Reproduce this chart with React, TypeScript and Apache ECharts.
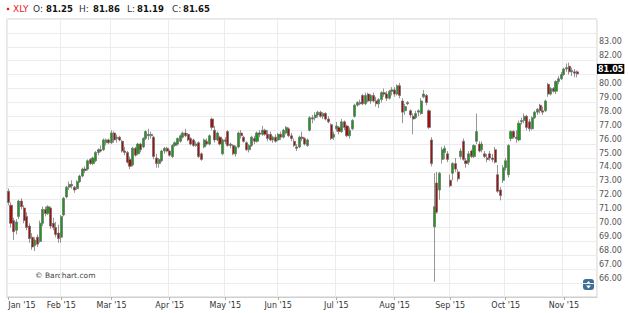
import React, { useEffect, useRef } from 'react';
import * as echarts from 'echarts';

const ticker = 'XLY';
const quoteLabels = ['O:', 'H:', 'L:', 'C:'];
const quoteValues = ['81.25', '81.86', '81.19', '81.65'];
const watermark = '\u00A9 Barchart.com';
const monthNames = ['Jan', 'Feb', 'Mar', 'Apr', 'May', 'Jun', 'Jul', 'Aug', 'Sep', 'Oct', 'Nov', 'Dec'];
const holidays = ['2015-01-19', '2015-02-16', '2015-04-03', '2015-05-25', '2015-07-03', '2015-09-07'];
const firstDay = '2015-01-02';
const emptySlots = 7;

const opens = [
  72.6, 71.6, 70.5, 69.8, 70.8, 71.9, 71.4, 70.8, 70.1, 69.3, 68.7, 69.3, 69.0, 70.3, 71.3, 71.0, 71.4, 70.3, 70.0, 69.6,
  69.3, 70.9, 72.2, 72.9, 73.1, 72.9, 72.8, 73.3, 73.7, 74.2, 74.2, 74.9, 74.6, 74.8, 75.4, 75.6, 75.6, 76.1, 76.3,
  76.1, 76.8, 76.4, 76.5, 76.2, 75.5, 75.4, 74.9, 74.5, 75.7, 75.3, 76.0, 75.8, 76.4, 76.7, 76.6, 76.5, 75.0, 74.6, 74.8, 75.5, 75.7, 75.5,
  75.1, 75.9, 76.0, 76.2, 76.5, 76.8, 76.7, 76.4, 76.3, 75.9, 76.1, 75.3, 75.8, 76.2, 76.0, 77.8, 77.0, 76.3, 76.5, 75.3,
  76.3, 76.9, 75.9, 75.9, 75.3, 75.8, 76.8, 76.5, 76.1, 75.6, 75.9, 76.4, 76.2, 76.8, 76.7, 77.0, 76.7, 76.7, 76.3, 76.5,
  76.3, 76.7, 76.5, 76.8, 77.1, 76.6, 76.2, 75.8, 75.8, 76.5, 76.4, 75.9, 77.0, 77.8, 77.9, 78.1, 78.3, 78.0, 78.2, 77.8, 77.4, 76.5,
  77.1, 77.2, 76.9, 77.6, 77.3, 76.6, 77.1, 78.0, 78.8, 79.0, 79.5, 78.9, 79.6, 79.1, 79.5, 79.1, 78.9, 79.2, 79.7, 79.6, 79.3, 79.8,
  79.9, 79.6, 80.2, 79.1, 78.4, 78.9, 78.4, 78.0, 77.9, 78.3, 78.2, 79.4, 79.5, 78.4, 76.3, 70.05, 73.2, 72.7, 74.9, 75.4, 75.3,
  73.4, 73.9, 74.6, 74.0, 75.1, 76.2, 74.8, 74.7, 75.5, 75.1, 76.2, 76.0, 75.6, 75.3, 75.0, 75.3, 75.0, 75.6, 73.8, 72.7, 73.4,
  74.3, 73.8, 76.4, 76.9, 76.5, 76.3, 77.6, 77.7, 78.0, 77.6, 77.1, 77.9, 78.3, 78.8, 78.4, 78.4, 80.3, 79.6, 80.0, 79.8, 80.5, 80.7,
  81.0, 81.4, 81.6, 81.2, 81.2, 81.2,
];
const highs = [
  72.8, 71.8, 70.7, 70.6, 72.0, 72.1, 71.6, 71.1, 70.3, 69.6, 69.3, 69.5, 70.5, 71.5, 71.5, 71.6, 71.5, 70.7, 70.4, 70.2,
  70.9, 72.2, 73.0, 73.3, 73.4, 73.0, 73.4, 73.8, 74.3, 74.4, 74.9, 75.0, 75.1, 75.5, 75.7, 75.9, 76.4, 76.4, 76.4,
  77.0, 76.9, 76.7, 76.6, 76.3, 75.8, 75.5, 75.1, 75.8, 75.8, 76.1, 76.1, 76.5, 77.0, 77.1, 76.9, 76.6, 75.3, 75.0, 75.6, 75.8, 75.8, 75.6,
  76.0, 76.2, 76.5, 76.7, 76.9, 77.1, 76.8, 76.5, 76.4, 76.2, 76.2, 75.4, 76.4, 76.4, 76.7, 77.9, 77.3, 76.9, 76.6, 76.4,
  76.5, 77.0, 76.1, 76.0, 75.9, 76.9, 77.0, 76.6, 76.2, 76.0, 76.6, 76.6, 76.9, 77.0, 77.3, 77.1, 77.0, 76.9, 76.6, 76.7,
  76.8, 76.9, 77.1, 77.3, 77.2, 76.8, 76.4, 76.0, 76.6, 76.9, 76.5, 76.4, 78.0, 78.1, 78.3, 78.4, 78.4, 78.3, 78.3, 78.0, 77.5, 76.9,
  77.6, 77.3, 77.8, 77.7, 77.4, 77.2, 77.8, 78.9, 79.1, 79.2, 79.6, 79.7, 79.7, 79.6, 79.7, 79.4, 79.3, 79.8, 80.0, 79.8, 79.9, 80.1,
  80.1, 80.3, 80.4, 79.3, 78.9, 79.1, 78.5, 78.2, 78.4, 78.5, 79.3, 79.9, 79.6, 78.5, 76.5, 73.9, 74.0, 74.0, 75.8, 75.9, 75.5,
  73.8, 74.7, 75.0, 74.2, 75.7, 76.4, 75.0, 75.5, 75.6, 76.0, 78.2, 76.2, 76.2, 75.5, 75.3, 75.5, 75.3, 75.8, 74.5, 72.9, 74.5,
  75.0, 76.0, 77.0, 77.0, 77.0, 77.7, 77.9, 78.2, 78.1, 77.8, 78.0, 78.4, 78.6, 78.9, 78.7, 79.2, 80.4, 80.1, 80.1, 80.6, 80.9, 81.2,
  81.5, 81.8, 81.86, 81.5, 81.4, 81.3,
];
const lows = [
  71.6, 70.0, 69.1, 69.5, 70.6, 71.3, 70.3, 69.8, 68.9, 68.4, 68.3, 68.6, 68.9, 70.1, 70.8, 70.9, 69.9, 69.8, 69.3, 68.9,
  68.9, 70.8, 72.1, 72.7, 72.8, 72.5, 72.7, 73.2, 73.6, 73.9, 74.1, 74.5, 74.5, 74.7, 75.2, 75.4, 75.5, 75.9, 76.0,
  76.0, 76.1, 76.1, 76.2, 75.4, 75.2, 74.6, 74.2, 74.4, 75.1, 75.2, 75.4, 75.7, 76.3, 76.3, 76.4, 74.9, 74.3, 74.3, 74.7, 75.3, 75.4, 75.1,
  75.0, 75.8, 75.9, 76.1, 76.4, 76.5, 76.2, 75.9, 75.8, 75.8, 75.0, 74.8, 75.7, 75.9, 75.9, 77.0, 76.1, 76.2, 75.9, 75.2,
  76.0, 75.8, 75.7, 75.2, 75.1, 75.7, 76.4, 76.1, 75.5, 75.4, 75.8, 76.0, 76.1, 76.5, 76.6, 76.6, 76.2, 76.2, 76.1, 76.1,
  76.2, 76.3, 76.4, 76.7, 76.5, 76.2, 75.8, 75.5, 75.7, 76.2, 75.9, 75.8, 76.9, 77.5, 77.7, 77.9, 77.9, 77.8, 77.7, 77.5, 76.3, 76.3,
  76.9, 76.7, 76.8, 77.0, 76.5, 76.4, 77.0, 77.9, 78.7, 78.8, 78.8, 78.8, 79.0, 78.9, 79.0, 78.7, 78.6, 79.0, 79.4, 79.1, 79.2, 79.5,
  79.4, 79.5, 79.3, 77.5, 78.1, 78.8, 77.9, 76.7, 77.8, 78.0, 78.1, 79.3, 78.8, 77.1, 74.4, 66.1, 71.0, 72.0, 74.6, 74.9, 74.7,
  72.9, 73.4, 74.0, 73.3, 74.9, 74.8, 74.3, 74.5, 75.0, 75.0, 76.0, 75.4, 75.4, 75.0, 74.7, 74.8, 74.7, 74.6, 72.5, 71.95, 73.2,
  74.1, 73.6, 76.2, 76.4, 76.1, 76.2, 77.4, 77.5, 77.0, 76.9, 77.0, 77.8, 78.1, 78.2, 78.1, 78.3, 79.4, 79.5, 79.7, 79.6, 80.3, 80.6,
  80.9, 81.2, 81.0, 80.9, 80.8, 80.8,
];
const closes = [
  71.8, 70.3, 69.7, 70.4, 71.9, 71.5, 70.5, 70.0, 69.2, 68.6, 69.1, 68.8, 70.3, 71.3, 71.0, 71.5, 70.1, 70.0, 69.5, 69.2,
  70.8, 72.1, 72.9, 73.1, 73.0, 72.7, 73.3, 73.7, 74.2, 74.1, 74.8, 74.6, 75.0, 75.4, 75.6, 75.5, 76.3, 76.3, 76.1,
  76.8, 76.3, 76.5, 76.3, 75.5, 75.4, 74.7, 74.4, 75.7, 75.2, 76.0, 75.6, 76.4, 76.9, 76.6, 76.7, 75.1, 74.6, 74.9, 75.5, 75.7, 75.5, 75.2,
  75.9, 76.1, 76.4, 76.6, 76.8, 76.6, 76.3, 76.0, 75.9, 76.0, 75.1, 74.9, 76.3, 76.0, 76.6, 77.2, 76.3, 76.8, 76.0, 76.3,
  76.2, 75.9, 76.0, 75.3, 75.8, 76.8, 76.6, 76.2, 75.6, 75.9, 76.5, 76.2, 76.8, 76.7, 77.0, 76.7, 76.4, 76.3, 76.5, 76.2,
  76.7, 76.5, 77.0, 77.2, 76.6, 76.4, 75.9, 75.7, 76.5, 76.4, 76.0, 76.3, 77.9, 77.9, 78.1, 78.3, 78.0, 78.2, 77.8, 77.6, 76.4, 76.7,
  77.3, 76.9, 77.6, 77.2, 76.6, 77.0, 77.7, 78.8, 79.0, 78.9, 78.9, 79.5, 79.1, 79.5, 79.1, 78.9, 79.2, 79.7, 79.6, 79.3, 79.8, 79.9,
  79.6, 80.2, 79.5, 78.3, 78.7, 79.0, 78.1, 77.8, 78.2, 78.4, 79.1, 79.6, 79.0, 77.2, 74.6, 71.5, 71.1, 73.9, 75.6, 75.7, 74.9,
  73.0, 74.6, 74.2, 73.5, 75.5, 74.9, 74.6, 75.3, 75.1, 75.9, 76.9, 75.5, 76.0, 75.1, 74.9, 75.0, 74.9, 74.7, 72.6, 72.3, 74.3,
  74.8, 75.9, 76.9, 76.5, 76.4, 77.5, 77.7, 78.0, 77.2, 77.1, 77.9, 78.3, 78.5, 78.4, 78.3, 79.1, 79.6, 80.0, 79.8, 80.5, 80.7, 81.0,
  81.4, 81.5, 81.2, 81.3, 81.1, 81.05,
];

const yMin = 65;
const yMax = 85;
const labelMin = 66;
const labelMax = 83;

function tradingDays(start: string, count: number): string[] {
  const out: string[] = [];
  const d = new Date(start + 'T00:00:00Z');
  while (out.length < count) {
    const iso = d.toISOString().slice(0, 10);
    const wd = d.getUTCDay();
    if (wd !== 0 && wd !== 6 && holidays.indexOf(iso) < 0) out.push(iso);
    d.setUTCDate(d.getUTCDate() + 1);
  }
  return out;
}

export default function App() {
  const ref = useRef<HTMLDivElement>(null);
  useEffect(() => {
    if (!ref.current) return;
    const chart = echarts.init(ref.current, undefined, { renderer: 'svg' });
    const n = closes.length;
    const dates = tradingDays(firstDay, n + emptySlots);
    const isMonthStart = (i: number) => i === 0 || dates[i].slice(5, 7) !== dates[i - 1].slice(5, 7);
    const monthLabel = (v: string) => monthNames[parseInt(v.slice(5, 7), 10) - 1] + " '" + v.slice(2, 4);
    const candles = opens.map((o, i) => [o, closes[i], lows[i], highs[i]]);
    const last = closes[n - 1];
    const font = 'DejaVu Sans';

    const header: any[] = [
      { type: 'circle', shape: { cx: 8, cy: 9, r: 1.3 }, style: { fill: '#e8191d' } },
      { type: 'text', x: 13, y: 9, style: { text: ticker, fill: '#e8191d', fontSize: 9, fontFamily: font, verticalAlign: 'middle' } },
    ];
    const labelX = [33, 79, 127, 172];
    const valueX = [46, 93, 137, 183];
    quoteLabels.forEach((l, i) => {
      header.push({ type: 'text', x: labelX[i], y: 9, style: { text: l, fill: '#333', fontSize: 9, fontFamily: font, verticalAlign: 'middle' } });
      header.push({ type: 'text', x: valueX[i], y: 9, style: { text: quoteValues[i], fill: '#111', fontSize: 8.5, fontWeight: 'bold', fontFamily: font, verticalAlign: 'middle' } });
    });

    chart.setOption({
      animation: false,
      backgroundColor: '#ffffff',
      grid: { left: 7, right: 31, top: 19, bottom: 16, show: true, borderColor: '#cfcfcf', borderWidth: 1 },
      xAxis: {
        type: 'category',
        data: dates,
        boundaryGap: true,
        axisLine: { show: true, lineStyle: { color: '#cfcfcf' } },
        axisTick: { show: true, alignWithLabel: true, length: 3, interval: (i: number) => isMonthStart(i), lineStyle: { color: '#b0b0b0' } },
        axisLabel: {
          interval: (i: number) => isMonthStart(i),
          formatter: (v: string) => monthLabel(v),
          fontSize: 8, fontFamily: font, color: '#333', margin: 4, alignMinLabel: 'left',
        },
        splitLine: { show: true, interval: (i: number) => isMonthStart(i), lineStyle: { color: '#ececec' } },
      },
      yAxis: [
        {
          type: 'value', position: 'right', min: yMin, max: yMax, interval: 1, scale: true,
          axisLine: { show: false }, axisTick: { show: false },
          splitLine: { show: true, lineStyle: { color: '#ececec' } },
          axisLabel: {
            fontSize: 8, fontFamily: font, color: '#555', margin: 2, verticalAlign: 'bottom', lineHeight: 10,
            formatter: (v: number) => (v >= labelMin && v <= labelMax && Math.abs(v - last) > 0.5 ? v.toFixed(2) : ''),
          },
        },
        {
          type: 'value', position: 'right', min: yMin, max: yMax, interval: 1,
          axisLine: { show: false }, axisTick: { show: false }, splitLine: { show: false },
          axisLabel: {
            customValues: [last],
            formatter: (v: number) => v.toFixed(2),
            fontSize: 8, fontFamily: font, fontWeight: 'bold', color: '#fff', backgroundColor: '#000',
            padding: [1, 1, 0, 1], margin: 0, verticalAlign: 'bottom', lineHeight: 9,
          },
        },
      ],
      series: [
        {
          type: 'candlestick',
          data: candles,
          yAxisIndex: 0,
          barWidth: 2.6,
          itemStyle: { color: '#169c16', color0: '#a01212', borderColor: '#6a6a6a', borderColor0: '#6a6a6a', borderWidth: 0.7 },
        },
      ],
      graphic: [
        ...header,
        { type: 'text', x: 35, y: 275, style: { text: watermark, fill: '#444', fontSize: 7.5, fontFamily: font, verticalAlign: 'middle' } },
        { type: 'rect', shape: { x: 583, y: 279, width: 11, height: 11, r: 3 }, style: { fill: '#3f6d9c' } },
        { type: 'polygon', shape: { points: [[588.5, 281], [586, 284], [591, 284]] }, style: { fill: '#fff' } },
        { type: 'polygon', shape: { points: [[586, 285.5], [591, 285.5], [588.5, 288.5]] }, style: { fill: '#fff' } },
      ],
    });
    return () => chart.dispose();
  }, []);
  return <div ref={ref} style={{ position: 'fixed', left: 0, top: 0, width: 628, height: 313 }} />;
}
